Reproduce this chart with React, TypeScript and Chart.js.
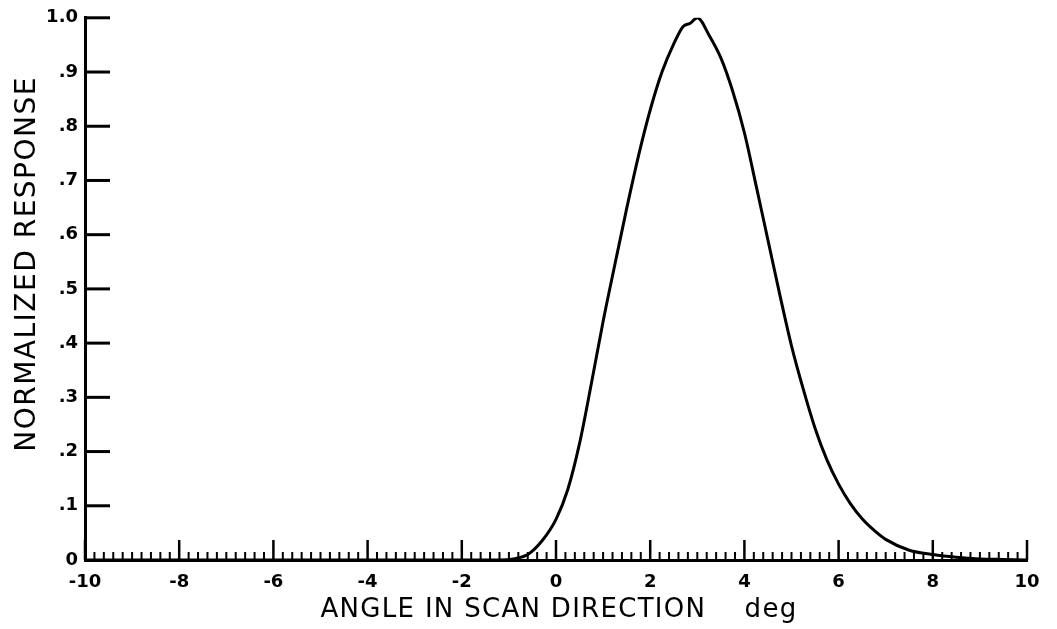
import React, { useEffect, useRef } from "react";
import { Chart, registerables } from "chart.js";

Chart.register(...registerables);

// Angle in scan direction (deg) and normalized response
const angleDeg = [-10, -2, -1.2, -0.9, -0.6, -0.3, 0, 0.25, 0.5, 0.75, 1.0, 1.25, 1.5, 1.75, 2.0, 2.25, 2.5, 2.7, 2.85, 3.0, 3.25, 3.5, 3.75, 4.0, 4.25, 4.5, 4.75, 5.0, 5.25, 5.5, 5.75, 6.0, 6.25, 6.5, 6.75, 7.0, 7.5, 8.0, 8.5, 9.0, 9.5, 10];
const response = [0, 0, 0, 0.002, 0.01, 0.035, 0.075, 0.13, 0.215, 0.325, 0.44, 0.545, 0.648, 0.745, 0.83, 0.9, 0.952, 0.984, 0.99, 1.0, 0.968, 0.926, 0.865, 0.788, 0.69, 0.59, 0.49, 0.395, 0.315, 0.243, 0.185, 0.14, 0.104, 0.076, 0.055, 0.038, 0.018, 0.01, 0.005, 0.002, 0.001, 0];

const xMajorTicks = [-10, -8, -6, -4, -2, 0, 2, 4, 6, 8, 10];
const xTickLabels = ["-10", "-8", "-6", "-4", "-2", "0", "2", "4", "6", "8", "10"];
const yTickValues = [0, 0.1, 0.2, 0.3, 0.4, 0.5, 0.6, 0.7, 0.8, 0.9, 1.0];
const yTickLabels = ["0", ".1", ".2", ".3", ".4", ".5", ".6", ".7", ".8", ".9", "1.0"];

const xTitle = "ANGLE IN SCAN DIRECTION    deg";
const yTitle = "NORMALIZED RESPONSE";

const near = (a: number, b: number) => Math.abs(a - b) < 1e-6;

const inwardTicks = {
  id: "inwardTicks",
  afterDraw(chart: any) {
    const { ctx, chartArea } = chart;
    const xs = chart.scales.x;
    const ys = chart.scales.y;
    ctx.save();
    ctx.strokeStyle = "#000";
    ctx.lineCap = "butt";
    // y ticks pointing into the plot
    ctx.lineWidth = 3;
    ys.ticks.forEach((t: any) => {
      if (near(t.value, 0)) return;
      const py = ys.getPixelForValue(t.value);
      ctx.beginPath();
      ctx.moveTo(chartArea.left, py);
      ctx.lineTo(chartArea.left + 25, py);
      ctx.stroke();
    });
    // x ticks pointing upward
    xs.ticks.forEach((t: any) => {
      const px = xs.getPixelForValue(t.value);
      const major = xMajorTicks.some((m) => near(m, t.value));
      ctx.lineWidth = major ? 2.5 : 2;
      ctx.beginPath();
      ctx.moveTo(px, chartArea.bottom);
      ctx.lineTo(px, chartArea.bottom - (major ? 20 : 8));
      ctx.stroke();
    });
    ctx.restore();
  },
};

const axisTitles = {
  id: "axisTitles",
  afterDraw(chart: any) {
    const { ctx, chartArea } = chart;
    ctx.save();
    ctx.fillStyle = "#000";
    ctx.textBaseline = "alphabetic";
    ctx.textAlign = "center";
    // x title
    ctx.font = "26px 'DejaVu Sans'";
    (ctx as any).letterSpacing = "1.3px";
    ctx.fillText(xTitle, (chartArea.left + chartArea.right) / 2 + 3, 617);
    // y title
    ctx.font = "28px 'DejaVu Sans'";
    (ctx as any).letterSpacing = "1.5px";
    ctx.translate(35, (chartArea.top + chartArea.bottom) / 2 - 25);
    ctx.rotate(-Math.PI / 2);
    ctx.fillText(yTitle, 0, 0);
    ctx.restore();
  },
};

export default function App() {
  const canvasRef = useRef<HTMLCanvasElement | null>(null);

  useEffect(() => {
    if (!canvasRef.current) return;
    const chart = new Chart(canvasRef.current, {
      type: "line",
      data: {
        datasets: [
          {
            data: angleDeg.map((x, i) => ({ x, y: response[i] })),
            borderColor: "#000",
            borderWidth: 3,
            pointRadius: 0,
            fill: false,
            cubicInterpolationMode: "monotone",
          },
        ],
      },
      options: {
        responsive: false,
        animation: false,
        events: [],
        layout: { padding: { left: 0, right: 30, top: 14, bottom: 0 } },
        plugins: {
          legend: { display: false },
          tooltip: { enabled: false },
          title: { display: false },
        },
        scales: {
          x: {
            type: "linear",
            min: -10,
            max: 10,
            afterFit: (s: any) => {
              s.height = 69;
            },
            grid: { display: false, drawTicks: false },
            border: { display: true, color: "#000", width: 3 },
            ticks: {
              stepSize: 0.2,
              autoSkip: false,
              maxRotation: 0,
              minRotation: 0,
              padding: 12,
              color: "#000",
              font: { family: "DejaVu Sans", weight: "bold", size: 18 },
              callback: (v: any) => {
                const i = xMajorTicks.findIndex((m) => near(m, Number(v)));
                return i >= 0 ? xTickLabels[i] : "";
              },
            },
          },
          y: {
            type: "linear",
            min: 0,
            max: 1,
            afterFit: (s: any) => {
              s.width = 85;
            },
            grid: { display: false, drawTicks: false },
            border: { display: true, color: "#000", width: 3 },
            ticks: {
              stepSize: 0.1,
              padding: 7,
              color: "#000",
              font: { family: "DejaVu Sans", weight: "bold", size: 18 },
              callback: (v: any) => {
                const i = yTickValues.findIndex((m) => near(m, Number(v)));
                return i >= 0 ? yTickLabels[i] : "";
              },
            },
          },
        },
      },
      plugins: [inwardTicks, axisTitles],
    } as any);
    return () => chart.destroy();
  }, []);

  return (
    <div style={{ position: "fixed", left: 0, top: 0, width: 1057, height: 629, background: "#fff" }}>
      <canvas ref={canvasRef} width={1057} height={629} style={{ display: "block" }} />
    </div>
  );
}
